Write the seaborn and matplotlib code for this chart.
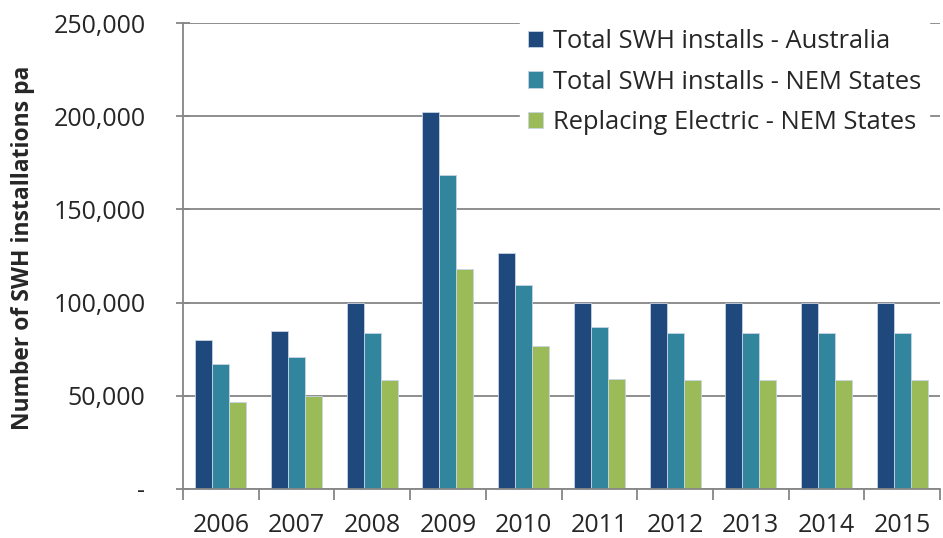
import matplotlib
matplotlib.use("Agg")
import matplotlib.pyplot as plt
import seaborn as sns
import pandas as pd
from matplotlib.ticker import FixedLocator, FuncFormatter

years = ["2006", "2007", "2008", "2009", "2010", "2011", "2012", "2013", "2014", "2015"]
total_aus = [80000, 85000, 100000, 202500, 126700, 100000, 100000, 100000, 100000, 100000]
total_nem = [66800, 71000, 83500, 168700, 109700, 86700, 83500, 83500, 83500, 83500]
replacing_elec = [46800, 50000, 58500, 118000, 76800, 59000, 58500, 58500, 58500, 58500]
series_names = ["Total SWH installs - Australia", "Total SWH installs - NEM States",
                "Replacing Electric - NEM States"]
colors = ["#1F497D", "#31859C", "#9BBB59"]

rows = []
for name, vals in zip(series_names, [total_aus, total_nem, replacing_elec]):
    for y, v in zip(years, vals):
        rows.append({"Year": y, "Series": name, "Value": v})
df = pd.DataFrame(rows)

sns.set_theme(style="white")
plt.rcParams["font.family"] = ["Open Sans", "DejaVu Sans"]

W, H = 943, 538
fig = plt.figure(figsize=(W / 100, H / 100), dpi=100)
ax = fig.add_axes([183 / W, 1 - 489 / H, (940 - 183) / W, (489 - 23) / H])

sns.barplot(data=df, x="Year", y="Value", hue="Series", palette=colors,
            width=0.674, ax=ax, edgecolor="#c8d4e4", linewidth=0.6, saturation=1)

ax.set_ylim(0, 250000)
ax.set_xlim(-0.5, len(years) - 0.5)
ax.yaxis.set_major_locator(FixedLocator([0, 50000, 100000, 150000, 200000, 250000]))
ax.yaxis.set_major_formatter(FuncFormatter(lambda v, p: "-" if v == 0 else f"{int(v):,}"))
ax.grid(axis="y", color="#868686", linewidth=1.3)
ax.set_axisbelow(True)

for s in ["top", "right"]:
    ax.spines[s].set_visible(False)
for s in ["left", "bottom"]:
    ax.spines[s].set_color("#868686")
    ax.spines[s].set_linewidth(1.3)

ax.tick_params(axis="y", direction="inout", length=10, width=1.3, color="#868686",
               labelsize=18, pad=22, left=True)
ax.set_xticks([i - 0.5 for i in range(len(years) + 1)], minor=False)
ax.set_xticklabels([])
ax.set_xticks(range(len(years)), minor=True)
ax.set_xticklabels(years, minor=True, fontsize=18)
ax.tick_params(axis="x", which="major", direction="out", length=8, width=1.3,
               color="#868686", bottom=True)
ax.tick_params(axis="x", which="minor", length=0, pad=17, bottom=True)

ax.set_xlabel("")
ax.set_ylabel("Number of SWH installations pa", fontsize=16.5, fontweight="bold")
ax.yaxis.set_label_coords((35 - 183) / 757, (489 - 248) / 466)

leg = ax.legend(loc="upper left", bbox_to_anchor=(520 / W, 1 - 21 / H),
                bbox_transform=fig.transFigure, frameon=True, fontsize=18.4,
                handlelength=0.6, handleheight=0.6, handletextpad=0.4, labelspacing=0.62,
                borderpad=0.3, borderaxespad=0)
leg.get_frame().set_facecolor("white")
leg.get_frame().set_edgecolor("white")
leg.get_frame().set_alpha(1)
leg.get_frame().set_boxstyle("square", pad=0)

fig.savefig("out.png", dpi=100)
